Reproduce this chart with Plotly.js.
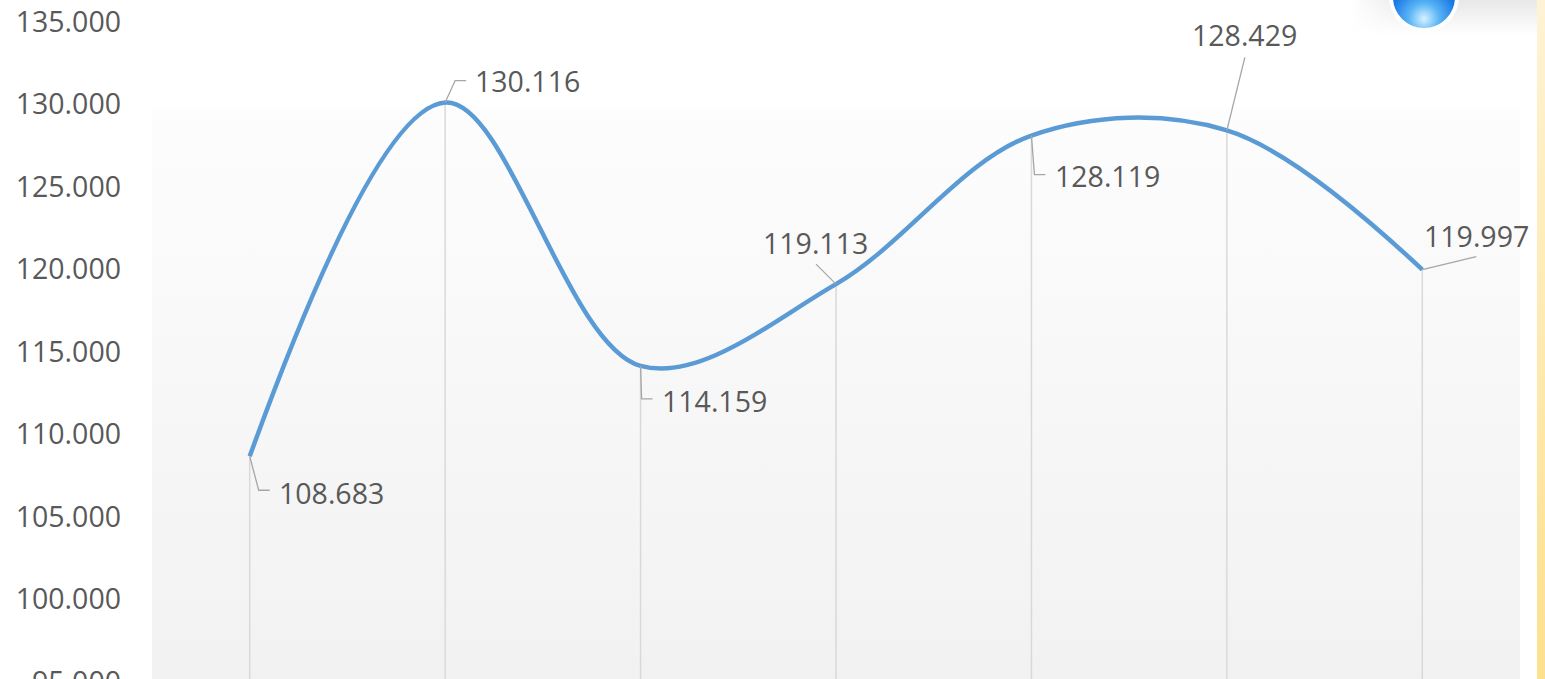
<!DOCTYPE html>
<html>
<head>
<meta charset="utf-8">
<script src="https://cdn.plot.ly/plotly-3.0.1.min.js"></script>
<style>
  html, body { margin: 0; padding: 0; overflow: hidden; background: #ffffff; }
  #chart { width: 1545px; height: 720px; }
</style>
</head>
<body>
<div id="chart"></div>
<script>
// ---- data ----
const categories = ["T1", "T2", "T3", "T4", "T5", "T6", "T7"];
const values = [108.683, 130.116, 114.159, 119.113, 128.119, 128.429, 119.997];
const yTickValues = [95, 100, 105, 110, 115, 120, 125, 130, 135];
const yTickLabels = ["95.000", "100.000", "105.000", "110.000", "115.000", "120.000", "125.000", "130.000", "135.000"];

// ---- label placement (screen px, y down) ----
const labelOffsets = [[82, 37], [82, -22], [74, 35], [-21, -41], [76, 40], [18, -95], [54, -34]];
const leaderPaths = [
  [[0, 0], [9, 34], [20, 34]],
  [[0, 0], [10, -22], [21, -22]],
  [[0, 0], [1, 33], [12, 33]],
  [[0, 0], [-20, -20]],
  [[0, 0], [3, 39], [14, 39]],
  [[0, 0], [18, -73]],
  [[0, 0], [54, -13]]
];

function svgUri(svg) { return "data:image/svg+xml;charset=utf-8," + encodeURIComponent(svg); }

const plotBg = svgUri(
  "<svg xmlns='http://www.w3.org/2000/svg' width='100' height='100' viewBox='0 0 100 100' preserveAspectRatio='none'>" +
  "<defs><linearGradient id='g' x1='0' y1='0' x2='0' y2='1'>" +
  "<stop offset='0' stop-color='#fdfdfd'/><stop offset='1' stop-color='#f1f1f1'/></linearGradient></defs>" +
  "<rect width='100' height='100' fill='url(#g)'/></svg>");

const yellowStrip = svgUri(
  "<svg xmlns='http://www.w3.org/2000/svg' width='10' height='100' viewBox='0 0 10 100' preserveAspectRatio='none'>" +
  "<defs><linearGradient id='y' x1='0' y1='0' x2='0' y2='1'>" +
  "<stop offset='0' stop-color='#fef3d6'/><stop offset='1' stop-color='#fddf88'/></linearGradient></defs>" +
  "<rect width='10' height='100' fill='url(#y)'/></svg>");

const ball = svgUri(
  "<svg xmlns='http://www.w3.org/2000/svg' width='207' height='35' viewBox='0 0 207 35' preserveAspectRatio='none'>" +
  "<defs>" +
  "<linearGradient id='b' x1='0' y1='0' x2='0' y2='1'><stop offset='0' stop-color='#e8e8e8'/><stop offset='1' stop-color='#ffffff'/></linearGradient>" +
  "<linearGradient id='h' x1='0' y1='0' x2='1' y2='0'><stop offset='0' stop-color='#ffffff' stop-opacity='1'/><stop offset='1' stop-color='#ffffff' stop-opacity='0'/></linearGradient>" +
  "<radialGradient id='r' cx='0.5' cy='0.85' r='0.7'><stop offset='0' stop-color='#d6f2ff'/><stop offset='0.35' stop-color='#5ab4f5'/><stop offset='0.75' stop-color='#1b7ae6'/><stop offset='1' stop-color='#0d5fd2'/></radialGradient>" +
  "</defs>" +
  "<rect x='20' y='0' width='187' height='35' fill='url(#b)'/>" +
  "<rect x='20' y='0' width='60' height='35' fill='url(#h)'/>" +
  "<circle cx='94' cy='-3' r='35' fill='#ffffff' opacity='0.9'/>" +
  "<circle cx='94' cy='-3' r='31' fill='url(#r)'/>" +
  "</svg>");

// ---- shapes: drop lines and leader lines ----
const shapes = [];
categories.forEach((c, i) => {
  shapes.push({
    type: "line", xref: "x", yref: "y", layer: "below",
    x0: c, x1: c, y0: values[i], y1: yTickValues[0],
    line: { color: "#d9d9d9", width: 1.5 }
  });
});
categories.forEach((c, i) => {
  const p = leaderPaths[i].map((pt, k) => (k === 0 ? "M" : "L") + pt[0] + "," + (-pt[1])).join(" ");
  shapes.push({
    type: "path", xref: "x", yref: "y", layer: "above",
    xsizemode: "pixel", ysizemode: "pixel",
    xanchor: c, yanchor: values[i],
    path: p,
    line: { color: "#a6a6a6", width: 1.3 }
  });
});

const annotations = categories.map((c, i) => ({
  x: c, y: values[i], xref: "x", yref: "y",
  text: values[i].toFixed(3),
  showarrow: false,
  xanchor: "center", yanchor: "middle",
  xshift: labelOffsets[i][0], yshift: -labelOffsets[i][1],
  font: { family: "Open Sans, sans-serif", size: 28.5, color: "#595959" }
}));

const trace = {
  type: "scatter", mode: "lines",
  x: categories, y: values,
  line: { shape: "spline", smoothing: 1, color: "#5b9bd5", width: 4.5 },
  hoverinfo: "skip",
  cliponaxis: false
};

const layout = {
  width: 1545, height: 720,
  margin: { l: 152, r: 25, t: 22, b: 38 },
  paper_bgcolor: "rgba(0,0,0,0)",
  plot_bgcolor: "rgba(0,0,0,0)",
  showlegend: false,
  xaxis: {
    type: "category", range: [-0.5, 6.5],
    showgrid: false, zeroline: false, showline: false,
    showticklabels: false, ticks: ""
  },
  yaxis: {
    range: [95, 135], autorange: false,
    tickmode: "array", tickvals: yTickValues, ticktext: yTickLabels,
    showgrid: false, zeroline: false, showline: false, ticks: "",
    ticklabelstandoff: 30,
    tickfont: { family: "Open Sans, sans-serif", size: 28.5, color: "#595959" }
  },
  images: [
    { source: plotBg, xref: "paper", yref: "paper", x: 0, y: 0.871, sizex: 1, sizey: 0.9, xanchor: "left", yanchor: "top", sizing: "stretch", layer: "below" },
    { source: yellowStrip, xref: "paper", yref: "paper", x: 1.0124, y: 1.04, sizex: 0.012, sizey: 1.1, xanchor: "left", yanchor: "top", sizing: "stretch", layer: "below" },
    { source: ball, xref: "paper", yref: "paper", x: 0.8611, y: 1.0333, sizex: 0.1513, sizey: 0.053, xanchor: "left", yanchor: "top", sizing: "stretch", layer: "below" }
  ],
  shapes: shapes,
  annotations: annotations
};

Plotly.newPlot("chart", [trace], layout, { displayModeBar: false, staticPlot: true });
</script>
</body>
</html>
